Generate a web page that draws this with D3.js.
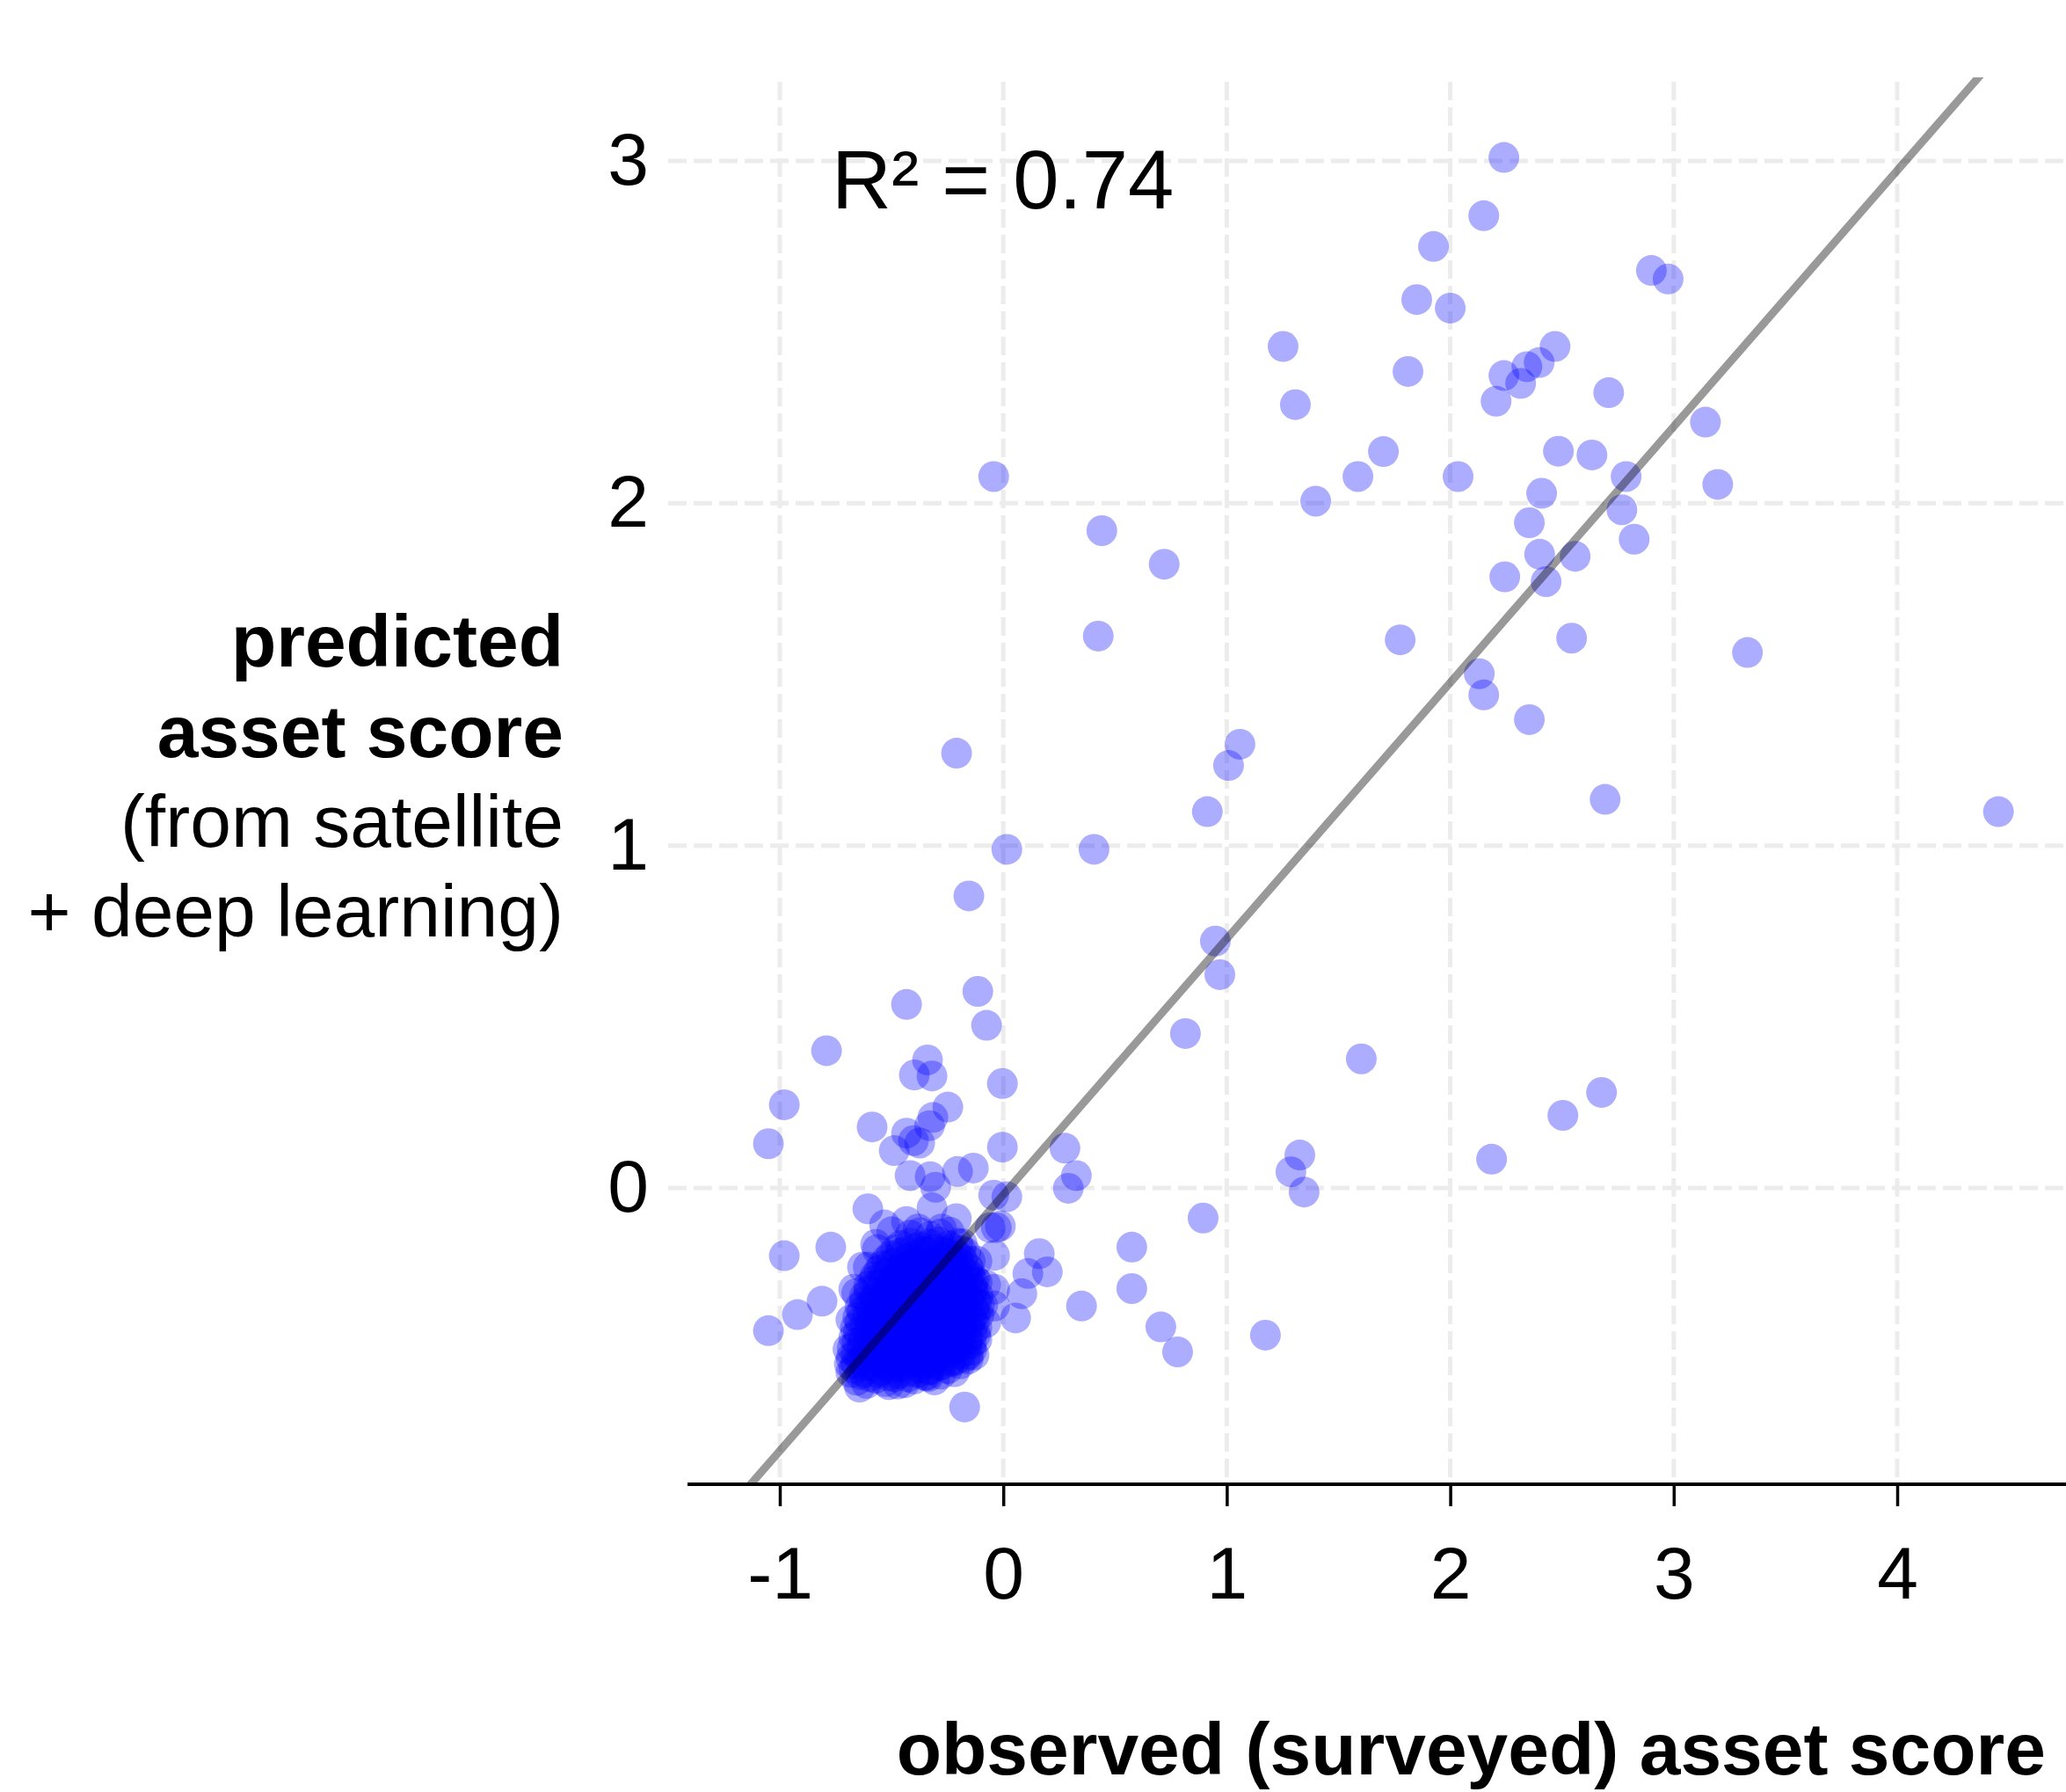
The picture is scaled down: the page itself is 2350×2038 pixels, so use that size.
<!DOCTYPE html>
<html>
<head>
<meta charset="utf-8">
<script src="https://cdn.jsdelivr.net/npm/d3@7"></script>
<style>
  html, body { margin: 0; padding: 0; background: #ffffff; }
  svg { display: block; }
  text { font-family: "Liberation Sans", Arial, Helvetica, sans-serif; fill: #000; }
</style>
</head>
<body>
<script>
// ---- tick values and labels ----
const xTicks = [-1, 0, 1, 2, 3, 4];
const yTicks = [0, 1, 2, 3];

// ---- least-squares fit shown on the plot ----
const fitSlope = 0.748;
const fitIntercept = -0.02;
const r2Text = "R² = 0.74";

// ---- axis titles ----
const xTitle = "observed (surveyed) asset score";
const yTitleBold = ["predicted", "asset score"];
const yTitleRegular = ["(from satellite", "+ deep learning)"];

// ---- survey clusters: [observed, predicted] ----
// clusters away from the dense low-asset mass
const outerPoints = [
  [2.24, 3.01], [2.15, 2.84], [1.925, 2.75], [2.90, 2.68], [2.975, 2.655],
  [1.85, 2.595], [2.00, 2.57], [1.252, 2.458], [2.469, 2.458], [1.811, 2.385],
  [2.398, 2.411], [2.343, 2.399], [2.240, 2.373], [2.315, 2.350], [1.307, 2.288],
  [2.205, 2.298], [2.709, 2.323], [3.142, 2.237], [1.701, 2.151], [2.484, 2.152],
  [2.634, 2.141], [1.587, 2.078], [2.035, 2.078], [2.787, 2.078], [3.197, 2.055],
  [-0.043, 2.078], [1.398, 2.006], [2.409, 2.029], [2.768, 1.981], [2.354, 1.943],
  [2.823, 1.895], [0.441, 1.920], [2.559, 1.845], [2.400, 1.851], [2.244, 1.785],
  [2.429, 1.771], [0.720, 1.822],
  [2.543, 1.606], [1.776, 1.601], [0.425, 1.612], [3.33, 1.564], [2.130, 1.502],
  [2.150, 1.440], [2.354, 1.368], [-0.209, 1.270], [1.059, 1.296], [1.008, 1.234],
  [0.913, 1.099], [2.693, 1.135], [4.453, 1.099], [0.016, 0.989], [0.406, 0.989],
  [-0.154, 0.853], [0.949, 0.721], [0.969, 0.623], [-0.433, 0.536], [-0.114, 0.574],
  [-0.075, 0.475], [0.815, 0.451], [-0.791, 0.401], [1.602, 0.377], [-0.339, 0.374],
  [-0.398, 0.330], [-0.319, 0.327], [-0.004, 0.305], [2.677, 0.279], [-0.980, 0.243],
  [-0.248, 0.236], [-0.315, 0.206], [2.504, 0.212], [-0.587, 0.178], [-0.433, 0.160],
  [-0.402, 0.138], [-0.488, 0.109], [-0.374, 0.131], [-0.330, 0.182], [-1.051, 0.129],
  [-0.004, 0.119], [0.276, 0.116], [-0.134, 0.058], [-0.205, 0.048], [-0.417, 0.036],
  [-0.327, 0.033], [-0.303, 0.002], [0.327, 0.036], [1.327, 0.096], [1.287, 0.047],
  [2.185, 0.084], [1.346, -0.012], [0.291, -0.001], [-0.043, -0.021], [0.016, -0.026],
  [-0.606, -0.061], [-0.319, -0.058], [0.894, -0.088], [-0.031, -0.116], [0.575, -0.173],
  [0.161, -0.192], [-0.980, -0.198], [-0.772, -0.173], [0.197, -0.245], [0.110, -0.250],
  [0.083, -0.309], [0.575, -0.294], [-0.811, -0.331], [-0.921, -0.370], [0.350, -0.345],
  [0.055, -0.380], [-1.051, -0.417], [0.705, -0.406], [1.173, -0.430], [0.780, -0.479],
  [-0.173, -0.640]
];

// clusters on the edge of the dense mass
const edgePoints = [
  [-0.433, -0.098], [-0.210, -0.090], [-0.039, -0.197], [-0.013, -0.111], [-0.079, -0.394],
  [-0.131, -0.488], [-0.236, -0.505], [-0.328, -0.531], [-0.472, -0.573], [-0.643, -0.582],
  [-0.682, -0.539], [-0.695, -0.471], [-0.682, -0.385], [-0.656, -0.308], [-0.604, -0.231],
  [-0.564, -0.180], [-0.499, -0.128], [-0.381, -0.120], [-0.276, -0.120], [-0.184, -0.163],
  [-0.118, -0.214], [-0.079, -0.283], [-0.092, -0.342], [-0.039, -0.296], [-0.059, -0.116],
  [-0.669, -0.296], [-0.630, -0.231], [-0.571, -0.165], [-0.531, -0.108], [-0.118, -0.443],
  [-0.157, -0.500], [-0.335, -0.551], [-0.512, -0.575], [-0.689, -0.514], [-0.039, -0.345]
];

// clusters inside the dense low-asset mass
const corePoints = [
  [-0.655, -0.562], [-0.612, -0.571], [-0.571, -0.556], [-0.528, -0.566], [-0.486, -0.552],
  [-0.441, -0.569], [-0.398, -0.558], [-0.352, -0.548], [-0.308, -0.561],
  [-0.668, -0.527], [-0.626, -0.538], [-0.584, -0.522], [-0.547, -0.534], [-0.503, -0.529],
  [-0.462, -0.521], [-0.418, -0.536], [-0.377, -0.524], [-0.334, -0.532], [-0.291, -0.519],
  [-0.248, -0.528], [-0.219, -0.537],
  [-0.681, -0.497], [-0.638, -0.504], [-0.596, -0.489], [-0.553, -0.501], [-0.512, -0.493],
  [-0.471, -0.506], [-0.428, -0.495], [-0.386, -0.502], [-0.343, -0.488], [-0.301, -0.499],
  [-0.259, -0.491], [-0.214, -0.503], [-0.171, -0.494],
  [-0.676, -0.468], [-0.632, -0.462], [-0.589, -0.474], [-0.546, -0.466], [-0.504, -0.459],
  [-0.461, -0.471], [-0.419, -0.463], [-0.377, -0.468], [-0.334, -0.457], [-0.292, -0.472],
  [-0.249, -0.464], [-0.206, -0.469], [-0.163, -0.458], [-0.142, -0.474],
  [-0.669, -0.437], [-0.627, -0.444], [-0.583, -0.432], [-0.541, -0.441], [-0.498, -0.429],
  [-0.456, -0.438], [-0.414, -0.446], [-0.371, -0.431], [-0.329, -0.439], [-0.286, -0.427],
  [-0.244, -0.442], [-0.201, -0.434], [-0.158, -0.441], [-0.124, -0.429],
  [-0.662, -0.409], [-0.619, -0.401], [-0.577, -0.414], [-0.534, -0.403], [-0.492, -0.411],
  [-0.449, -0.398], [-0.407, -0.406], [-0.365, -0.413], [-0.322, -0.399], [-0.279, -0.408],
  [-0.237, -0.402], [-0.194, -0.411], [-0.152, -0.398], [-0.118, -0.407],
  [-0.651, -0.378], [-0.608, -0.372], [-0.566, -0.384], [-0.523, -0.369], [-0.481, -0.379],
  [-0.438, -0.371], [-0.396, -0.383], [-0.353, -0.368], [-0.311, -0.377], [-0.268, -0.381],
  [-0.226, -0.366], [-0.183, -0.374], [-0.141, -0.382], [-0.109, -0.371],
  [-0.641, -0.348], [-0.598, -0.341], [-0.556, -0.353], [-0.513, -0.339], [-0.471, -0.347],
  [-0.428, -0.356], [-0.386, -0.342], [-0.343, -0.349], [-0.301, -0.338], [-0.258, -0.352],
  [-0.216, -0.344], [-0.173, -0.337], [-0.131, -0.351], [-0.107, -0.342],
  [-0.622, -0.318], [-0.579, -0.324], [-0.537, -0.311], [-0.494, -0.322], [-0.452, -0.315],
  [-0.409, -0.308], [-0.367, -0.321], [-0.324, -0.313], [-0.282, -0.326], [-0.239, -0.317],
  [-0.197, -0.309], [-0.154, -0.322], [-0.112, -0.314],
  [-0.603, -0.287], [-0.561, -0.281], [-0.518, -0.293], [-0.476, -0.279], [-0.433, -0.288],
  [-0.391, -0.296], [-0.348, -0.283], [-0.306, -0.291], [-0.263, -0.278], [-0.221, -0.289],
  [-0.178, -0.284], [-0.136, -0.293], [-0.117, -0.276],
  [-0.574, -0.258], [-0.532, -0.251], [-0.489, -0.263], [-0.447, -0.249], [-0.404, -0.257],
  [-0.362, -0.266], [-0.319, -0.253], [-0.277, -0.261], [-0.234, -0.248], [-0.192, -0.259],
  [-0.149, -0.254], [-0.128, -0.266],
  [-0.543, -0.228], [-0.501, -0.221], [-0.458, -0.234], [-0.416, -0.226], [-0.373, -0.219],
  [-0.331, -0.232], [-0.288, -0.224], [-0.246, -0.229], [-0.203, -0.218], [-0.161, -0.231],
  [-0.148, -0.214],
  [-0.503, -0.198], [-0.461, -0.191], [-0.418, -0.203], [-0.376, -0.194], [-0.333, -0.188],
  [-0.291, -0.201], [-0.248, -0.193], [-0.206, -0.197], [-0.168, -0.189],
  [-0.459, -0.168], [-0.416, -0.161], [-0.374, -0.172], [-0.331, -0.164], [-0.289, -0.158],
  [-0.246, -0.169], [-0.204, -0.162],
  [-0.417, -0.138], [-0.372, -0.131], [-0.328, -0.142], [-0.284, -0.135], [-0.241, -0.129],
  // second, interleaved layer of the mass
  [-0.640, -0.545], [-0.598, -0.551], [-0.556, -0.541], [-0.513, -0.549], [-0.469, -0.543],
  [-0.427, -0.552], [-0.384, -0.540], [-0.341, -0.547], [-0.279, -0.544],
  [-0.659, -0.513], [-0.617, -0.518], [-0.575, -0.509], [-0.532, -0.516], [-0.489, -0.511],
  [-0.447, -0.519], [-0.404, -0.508], [-0.362, -0.514], [-0.319, -0.511], [-0.277, -0.517],
  [-0.234, -0.509], [-0.193, -0.514],
  [-0.659, -0.483], [-0.616, -0.488], [-0.574, -0.479], [-0.531, -0.486], [-0.489, -0.481],
  [-0.446, -0.489], [-0.404, -0.478], [-0.361, -0.484], [-0.318, -0.481], [-0.276, -0.487],
  [-0.233, -0.479], [-0.191, -0.483], [-0.156, -0.486],
  [-0.654, -0.452], [-0.611, -0.457], [-0.568, -0.449], [-0.526, -0.456], [-0.483, -0.451],
  [-0.441, -0.458], [-0.398, -0.448], [-0.356, -0.454], [-0.313, -0.451], [-0.271, -0.457],
  [-0.228, -0.449], [-0.186, -0.453], [-0.143, -0.456],
  [-0.648, -0.422], [-0.606, -0.427], [-0.563, -0.419], [-0.521, -0.426], [-0.478, -0.421],
  [-0.436, -0.428], [-0.393, -0.418], [-0.351, -0.424], [-0.308, -0.421], [-0.266, -0.427],
  [-0.223, -0.419], [-0.181, -0.423], [-0.139, -0.426],
  [-0.641, -0.392], [-0.598, -0.397], [-0.556, -0.389], [-0.513, -0.396], [-0.471, -0.391],
  [-0.428, -0.398], [-0.386, -0.388], [-0.343, -0.394], [-0.301, -0.391], [-0.258, -0.397],
  [-0.216, -0.389], [-0.173, -0.393], [-0.131, -0.396],
  [-0.632, -0.361], [-0.589, -0.366], [-0.547, -0.358], [-0.504, -0.365], [-0.462, -0.360],
  [-0.419, -0.367], [-0.377, -0.357], [-0.334, -0.363], [-0.292, -0.360], [-0.249, -0.366],
  [-0.207, -0.358], [-0.164, -0.362], [-0.124, -0.365],
  [-0.619, -0.331], [-0.577, -0.336], [-0.534, -0.328], [-0.492, -0.335], [-0.449, -0.330],
  [-0.407, -0.337], [-0.364, -0.327], [-0.322, -0.333], [-0.279, -0.330], [-0.237, -0.336],
  [-0.194, -0.328], [-0.152, -0.332], [-0.121, -0.335],
  [-0.601, -0.301], [-0.559, -0.306], [-0.516, -0.298], [-0.474, -0.305], [-0.431, -0.300],
  [-0.389, -0.307], [-0.346, -0.297], [-0.304, -0.303], [-0.261, -0.300], [-0.219, -0.306],
  [-0.176, -0.298], [-0.134, -0.302],
  [-0.581, -0.271], [-0.539, -0.276], [-0.496, -0.268], [-0.454, -0.275], [-0.411, -0.270],
  [-0.369, -0.277], [-0.326, -0.267], [-0.284, -0.273], [-0.241, -0.270], [-0.199, -0.276],
  [-0.156, -0.268], [-0.137, -0.274],
  [-0.556, -0.241], [-0.514, -0.246], [-0.471, -0.238], [-0.429, -0.245], [-0.386, -0.240],
  [-0.344, -0.247], [-0.301, -0.237], [-0.259, -0.243], [-0.216, -0.240], [-0.174, -0.246],
  [-0.152, -0.238],
  [-0.523, -0.211], [-0.481, -0.216], [-0.438, -0.208], [-0.396, -0.215], [-0.353, -0.210],
  [-0.311, -0.217], [-0.268, -0.207], [-0.226, -0.213], [-0.183, -0.210],
  [-0.481, -0.181], [-0.438, -0.186], [-0.396, -0.178], [-0.353, -0.185], [-0.311, -0.180],
  [-0.268, -0.187], [-0.226, -0.177], [-0.189, -0.183]
];

// ---- drawing ----
const W = 2350, H = 2038;
const plot = { left: 760, right: 2348, top: 88, bottom: 1688 };

const svg = d3.select("body").append("svg")
  .attr("width", W).attr("height", H)
  .attr("viewBox", `0 0 ${W} ${H}`);

const x = d3.scaleLinear().domain([-1, 4]).range([887, 2158]);
const y = d3.scaleLinear().domain([0, 3]).range([1351, 183]);
const tickText = d => String(d);  // plain hyphen for negatives

// dashed grid
const grid = svg.append("g")
  .attr("stroke", "#ececec")
  .attr("stroke-width", 5)
  .attr("stroke-dasharray", "21,8")
  .attr("fill", "none");

grid.selectAll("line.gx").data(xTicks).join("line")
  .attr("class", "gx")
  .attr("x1", d => x(d)).attr("x2", d => x(d))
  .attr("y1", plot.top + 5).attr("y2", plot.bottom - 2);

grid.selectAll("line.gy").data(yTicks).join("line")
  .attr("class", "gy")
  .attr("x1", plot.left).attr("x2", plot.right)
  .attr("y1", d => y(d)).attr("y2", d => y(d));

// points
const allPoints = outerPoints.concat(edgePoints, corePoints);
svg.append("g")
  .selectAll("circle").data(allPoints).join("circle")
  .attr("cx", d => x(d[0]))
  .attr("cy", d => y(d[1]))
  .attr("r", 17.5)
  .attr("fill", "#0000ff")
  .attr("fill-opacity", 0.32);

// fitted line, clipped to the panel
svg.append("clipPath").attr("id", "panel")
  .append("rect")
  .attr("x", plot.left).attr("y", plot.top)
  .attr("width", W - plot.left).attr("height", plot.bottom - plot.top);

const fitX = [-1.6, 4.8];
svg.append("path")
  .attr("clip-path", "url(#panel)")
  .attr("d", d3.line()
    .x(d => x(d))
    .y(d => y(fitIntercept + fitSlope * d))(fitX))
  .attr("fill", "none")
  .attr("stroke", "#000")
  .attr("stroke-opacity", 0.4)
  .attr("stroke-width", 9);

// x axis
const xAxis = svg.append("g")
  .attr("transform", `translate(0,${plot.bottom})`)
  .call(d3.axisBottom(x).tickValues(xTicks).tickSize(25).tickFormat(tickText));
xAxis.select(".domain").remove();
xAxis.selectAll(".tick line").attr("stroke", "#000").attr("stroke-width", 3.5);
xAxis.selectAll(".tick text")
  .attr("y", 130).attr("dy", 0)
  .attr("font-size", 84)
  .attr("font-family", "Liberation Sans, Arial, sans-serif")
  .attr("fill", "#000");
xAxis.append("line")
  .attr("x1", 782).attr("x2", W)
  .attr("y1", 0).attr("y2", 0)
  .attr("stroke", "#000").attr("stroke-width", 4);

// y tick labels (no axis line)
svg.append("g")
  .selectAll("text").data(yTicks).join("text")
  .attr("x", 738)
  .attr("y", d => y(d) + 27)
  .attr("text-anchor", "end")
  .attr("font-size", 84)
  .text(tickText);

// R² annotation
svg.append("text")
  .attr("x", 946).attr("y", 237)
  .attr("font-size", 94)
  .text(r2Text);

// x title
svg.append("text")
  .attr("x", 2327).attr("y", 2018)
  .attr("text-anchor", "end")
  .attr("font-size", 84)
  .attr("font-weight", "bold")
  .text(xTitle);

// y title, right-aligned block left of the tick labels
const yTitleLines = yTitleBold.map(t => ({ t, bold: true }))
  .concat(yTitleRegular.map(t => ({ t, bold: false })));
const yTitleBaselines = [758, 861, 963, 1065];
svg.append("g")
  .selectAll("text").data(yTitleLines).join("text")
  .attr("x", 641)
  .attr("y", (d, i) => yTitleBaselines[i])
  .attr("text-anchor", "end")
  .attr("font-size", 84)
  .attr("font-weight", d => d.bold ? "bold" : "normal")
  .text(d => d.t);
</script>
</body>
</html>
